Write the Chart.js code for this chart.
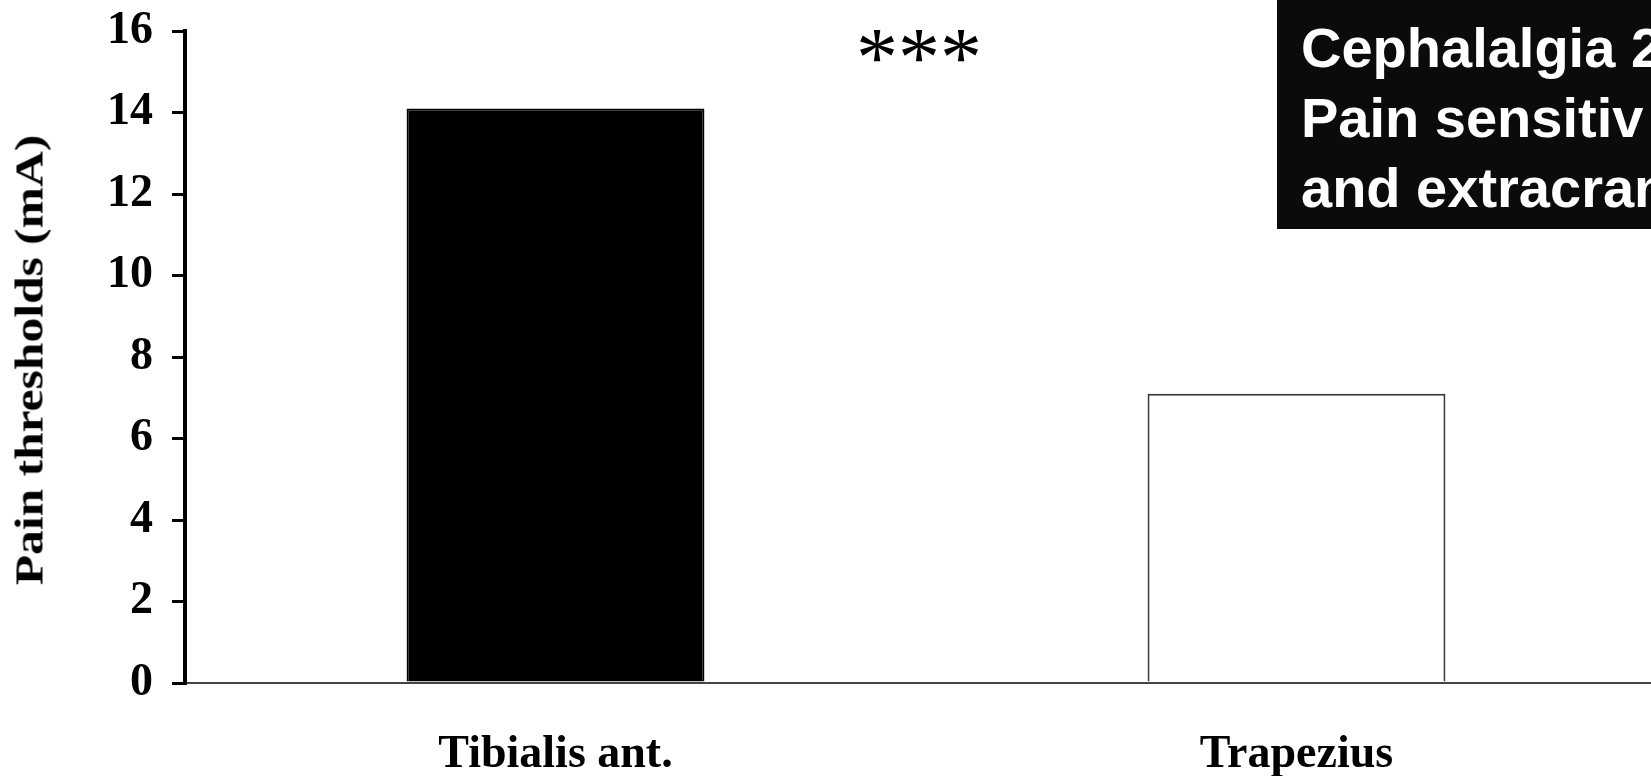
<!DOCTYPE html>
<html>
<head>
<meta charset="utf-8">
<title>Pain thresholds</title>
<script src="https://cdn.jsdelivr.net/npm/chart.js@4.4.0/dist/chart.umd.min.js"></script>
<style>
    html, body {
        margin: 0;
        padding: 0;
        background: #fff;
        overflow: hidden;
    }
    #wrap {
        position: relative;
        width: 1651px;
        height: 776px;
        overflow: hidden;
    }
    /* plot is a bit wider than the window: the x axis runs off the right edge */
    #plot {
        position: absolute;
        left: 0;
        top: 0;
        width: 1667px;
        height: 776px;
    }
    .ytitle {
        position: absolute;
        left: 29px;
        top: 360px;
        transform: translate(-50%, -50%) rotate(-90deg) scaleX(1.27);
        font: bold 39px "Liberation Serif", "Times New Roman", serif;
        color: #000;
        white-space: nowrap;
    }
    .banner {
        position: absolute;
        left: 1277px;
        top: 0;
        width: 420px;
        height: 229px;
        box-sizing: border-box;
        padding: 13px 0 0 24px;
        background: #0b0b0b;
        color: #fff;
        font: bold 56px "Liberation Sans", Arial, sans-serif;
        line-height: 70px;
        white-space: nowrap;
    }
</style>
</head>
<body>
<div id="wrap">
    <div id="plot"><canvas id="chart"></canvas></div>
    <div class="ytitle">Pain thresholds (mA)</div>
    <div class="banner">Cephalalgia 2<br>Pain sensitiv<br>and extracran</div>
</div>
<script>
// values
const muscles = ['Tibialis ant.', 'Trapezius'];
const painThresholds = [14.1, 7.1];
const yMin = 0;
const yMax = 16;
const yStep = 2;

// significance mark between the two bars
const sigLabel = '***';
const sigLevel = 15.2;

const serif = '"Liberation Serif", "Times New Roman", serif';

const sigPlugin = {
    id: 'sigMark',
    afterDatasetsDraw(chart) {
        const { ctx, scales } = chart;
        const px = (scales.x.getPixelForValue(0) + scales.x.getPixelForValue(1)) / 2 - 7;
        const py = scales.y.getPixelForValue(sigLevel);
        ctx.save();
        ctx.font = '84px ' + serif;
        ctx.fillStyle = '#000';
        ctx.textAlign = 'center';
        ctx.textBaseline = 'middle';
        ctx.fillText(sigLabel, px, py);
        ctx.restore();
    }
};

new Chart(document.getElementById('chart'), {
    type: 'bar',
    data: {
        labels: muscles,
        datasets: [{
            data: painThresholds,
            backgroundColor: ['#000000', '#ffffff'],
            borderColor: ['#000000', '#3a3a3a'],
            borderWidth: 2,
            categoryPercentage: 1.0,
            barPercentage: 0.402
        }]
    },
    options: {
        responsive: true,
        maintainAspectRatio: false,
        animation: false,
        layout: {
            padding: { top: 31, right: 0, bottom: 0, left: 0 }
        },
        plugins: {
            legend: { display: false },
            tooltip: { enabled: false }
        },
        scales: {
            x: {
                grid: { display: false, drawTicks: false },
                border: { display: true, color: '#444', width: 2 },
                ticks: {
                    padding: 45,
                    color: '#000',
                    font: { family: serif, size: 46, weight: 'bold' }
                },
                afterFit(scale) { scale.height = 93; }
            },
            y: {
                min: yMin,
                max: yMax,
                grid: {
                    drawOnChartArea: false,
                    drawTicks: true,
                    tickLength: 13,
                    lineWidth: 3,
                    color: '#000'
                },
                border: { display: true, color: '#000', width: 4 },
                ticks: {
                    stepSize: yStep,
                    padding: 19,
                    color: '#000',
                    font: { family: serif, size: 46, weight: 'bold' }
                },
                afterFit(scale) {
                    // fixed axis width, and let the top label hang into the layout padding
                    scale.width = 185;
                    scale.paddingTop = 0;
                    scale.paddingBottom = 0;
                }
            }
        }
    },
    plugins: [sigPlugin]
});
</script>
</body>
</html>
